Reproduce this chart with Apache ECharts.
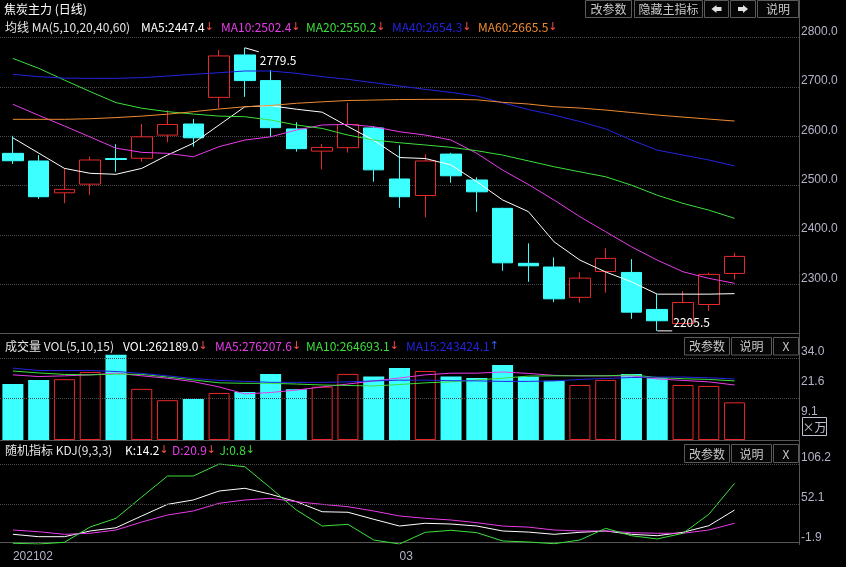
<!DOCTYPE html>
<html>
<head>
<meta charset="utf-8">
<title>焦炭主力 (日线)</title>
<script src="https://cdn.jsdelivr.net/npm/echarts@6/dist/echarts.min.js"></script>
<style>
html, body { margin: 0; padding: 0; background: #000; }
#main { width: 846px; height: 567px; }
</style>
</head>
<body>
<div id="main"></div>
<script>
// 交易日 (2021-02 ~ 2021-03)
const dates = ['2021-02-01','2021-02-02','2021-02-03','2021-02-04','2021-02-05','2021-02-08','2021-02-09','2021-02-10',
	'2021-02-18','2021-02-19','2021-02-22','2021-02-23','2021-02-24','2021-02-25','2021-02-26',
	'2021-03-01','2021-03-02','2021-03-03','2021-03-04','2021-03-05','2021-03-08','2021-03-09','2021-03-10',
	'2021-03-11','2021-03-12','2021-03-15','2021-03-16','2021-03-17','2021-03-18'];
// 右侧留白两根
const padSlots = ['', ''];

const openP  = [2565.5,2550,2485.5,2503,2555,2555.5,2602.5,2625,2679,2765,2713,2615,2570,2577,2617,2513.5,2480,2564,2511.5,2454,2342.5,2335,2273.5,2326,2324,2249,2220.5,2259,2322];
const closeP = [2550.5,2477.5,2492.5,2552,2553,2599,2624,2597,2763,2713,2617.5,2575,2577.5,2624,2532,2477.5,2550,2520,2487.5,2343.5,2337.5,2270.5,2312.5,2352.5,2243.5,2226,2263,2320,2356.5];
const lowP   = [2544,2473,2464.5,2481,2528,2548.5,2588,2579,2657,2680,2599,2569,2533,2567,2508,2455,2435.5,2506,2447,2327.5,2305,2264,2262.5,2283,2230,2205.5,2219,2246,2310];
const highP  = [2601,2562,2535.5,2558.5,2584,2625,2653,2635,2775,2779.5,2734.5,2628.5,2584,2668,2619.5,2582,2563.5,2566.5,2517,2455,2383,2354.5,2324,2373,2351,2280,2286,2323.5,2364];

const ma5  = [2597,2566,2535,2525,2523,2535,2562,2586,2623,2660,2662,2655,2649,2620,2592,2557,2555,2542,2508,2471,2447.4,2386,2349,2325,2305,2280,2280,2280,2281];
const ma10 = [2665,2642.6,2621,2598.6,2576,2567.5,2565.5,2558.6,2579,2592.5,2599,2612.8,2623,2624.3,2619.5,2609.3,2602.6,2592.5,2565.5,2531.6,2502.4,2470.8,2437,2406.5,2376,2349,2325.4,2312,2302];
const ma20 = [2758,2738,2714,2690.7,2668.4,2657,2650,2645.2,2641,2639.8,2633,2623,2616,2602.6,2592.5,2587,2582.4,2577.7,2570.8,2562,2550.2,2538.3,2528,2518,2501,2480.6,2464,2450.4,2433.7];
const ma40 = [2725.8,2721,2718,2717.6,2717.6,2719,2722.3,2725.8,2729,2732.5,2732.5,2727.8,2721,2715.6,2708.7,2702,2695.3,2689,2681.7,2668,2654.3,2643,2630,2615,2592.5,2572,2562,2552,2540];
const ma60 = [2634.5,2634.5,2634.5,2635.7,2638,2641,2645,2650,2655.4,2660,2662.5,2667,2670,2672.6,2673.6,2674.6,2675,2675,2674,2669,2665.5,2660,2657.4,2653.3,2648.3,2643.2,2639,2635,2631];

// 成交量 (万手)
const vol      = [23.2,24.9,25.2,28.2,35.3,21.2,16.5,17,19.5,19.9,27.4,21,22.1,27.4,26.3,29.9,28.6,26.3,25.7,31.1,26.2,24.6,22.8,24.9,27.4,25.6,22.8,22.4,15.6];
const volMa5   = [27.0,26.3,26.6,27.0,27.7,26.6,25.6,24.2,22.0,19.1,19.7,20.7,22.0,23.2,24.5,25.7,27.0,27.7,27.7,28.2,27.6,26.8,26.6,26.6,26.6,25.3,24.7,24.1,22.8];
const volMa10  = [28.6,27.8,27.2,27.0,27.3,27.2,26.1,24.9,23.7,23.5,23.5,23.2,22.8,22.6,22.4,23.0,23.7,24.1,24.9,25.6,26.5,26.6,26.6,26.6,27.0,25.9,25.4,25.1,24.5];
const volMa15  = [29.8,28.8,28.8,28.8,28.4,27.6,26.6,25.5,24.7,24.3,23.9,23.9,23.9,24.1,24.5,24.8,24.8,24.6,24.5,24.3,24.3,24.5,25.1,25.5,25.9,26.1,26.1,25.8,25.3];

// KDJ(9,3,3)
const kdjK = [11.2,8.0,8.0,15.7,20.1,36,51.7,57.6,69.7,73.4,65.3,55.3,41.7,41,31.5,22.4,26.1,25.1,22.4,15.7,14.2,11.2,13.9,15.7,11.2,9.3,13.9,22.8,44];
const kdjD = [17,14.7,11.2,12.6,17,27.8,37.3,42.7,53.1,57.6,59.9,55.3,51.7,48.5,42.7,36,32.8,30.5,26.9,22.4,20.9,17,15.7,15.7,13.4,12.6,12.6,17,26.1];
const kdjJ = [-0.9,-1.9,0.4,21.1,32.8,61.6,90,90,106.2,102.5,73.8,44,22.4,24.7,3.5,-1.9,13.9,16.6,13.4,2.2,0.8,-1.5,3.5,19.3,9.3,4.9,12.6,38.2,80.1];

// 刻度
const priceTicks = [2300, 2400, 2500, 2600, 2700, 2800];
const volTicks = [9.1, 21.6, 34.0];
const volGrid = [17.2, 34.0];
const kdjTicks = [-1.9, 52.1, 106.2];
const xTicks = [[0, '202102'], [15, '03']];
// 最高/最低标注
const extremes = [[9, 2779.5, 1], [25, 2205.5, -1]];

window.onload = function() {
	const RED = '#e8282b', CYAN = '#3cffff';
	const C_WHITE = '#ffffff', C_MAG = '#e83ce8', C_GREEN = '#3ce03c', C_BLUE = '#2424e0', C_ORANGE = '#f08a30';
	const FONT = '12px "Noto Sans CJK SC"';
	const AXIS_TXT = '#b4b4c8';
	const cats = dates.concat(padSlots);

	let chart = echarts.init(document.getElementById('main'));

	function lineSeries(name, data, color, xi, extra) {
		return Object.assign({
			name: name, type: 'line', data: data,
			xAxisIndex: xi, yAxisIndex: xi,
			symbol: 'none', smooth: false, silent: true,
			lineStyle: { color: color, width: 1 }
		}, extra || {});
	}
	function gridLines(values) {
		return {
			silent: true, symbol: ['none', 'none'], label: { show: false },
			lineStyle: { type: 'dotted', color: '#4a4a4a', width: 1 },
			data: values.map(function(v) { return { yAxis: v }; })
		};
	}
	function xAxisOf(i) {
		return {
			type: 'category', gridIndex: i, data: cats, boundaryGap: true,
			axisLine: { show: true, lineStyle: { color: '#555', width: 1 } },
			axisTick: { show: false },
			splitLine: { show: false },
			axisLabel: i === 2 ? {
				interval: 0, align: 'left', margin: 7, color: AXIS_TXT, fontSize: 12,
				fontFamily: 'Liberation Sans',
				formatter: function(v, idx) {
					for (let t of xTicks) { if (t[0] === idx) return t[1]; }
					return '';
				}
			} : { show: false }
		};
	}
	function yAxisOf(i, min, max, ticks, extra) {
		return Object.assign({
			type: 'value', gridIndex: i, position: 'right', min: min, max: max, scale: true,
			axisLine: { show: false }, axisTick: { show: false },
			splitLine: { show: false },
			axisLabel: {
				customValues: ticks, margin: 2, align: 'left', verticalAlign: 'bottom',
				color: AXIS_TXT, fontSize: 12, fontFamily: 'Liberation Sans',
				formatter: function(v) { return v.toFixed(1); }
			}
		}, extra || {});
	}

	// 文字和按钮
	function txt(x, y, text, color) {
		return { type: 'text', x: x, y: y, silent: true,
			style: { text: text, fill: color, font: FONT, verticalAlign: 'middle' } };
	}
	// parts: [文字, 颜色, 箭头, 箭头颜色]
	function valTxt(x, y, parts) {
		let rich = {}, str = '';
		parts.forEach(function(p, i) {
			rich['v' + i] = { fill: p[1], font: FONT };
			rich['a' + i] = { fill: p[3], font: '11px "DejaVu Sans"' };
			str += (i ? ' ' : '') + '{v' + i + '|' + p[0] + '}{a' + i + '|' + p[2] + '}';
		});
		return { type: 'text', x: x, y: y, silent: true,
			style: { text: str, verticalAlign: 'middle', rich: rich } };
	}
	function btn(x, y, w, h, label) {
		return { type: 'group', x: x, y: y, silent: true, children: [
			{ type: 'rect', shape: { x: 0, y: 0, width: w, height: h },
				style: { fill: '#050505', stroke: '#5a5a5a', lineWidth: 1 } },
			{ type: 'text', x: w / 2, y: h / 2 + 0.5,
				style: { text: label, fill: '#c8c8c8', font: FONT, align: 'center', verticalAlign: 'middle' } }
		] };
	}
	// dir: -1 左, 1 右
	function arrowBtn(x, y, w, h, dir) {
		let cx = w / 2, cy = h / 2, s = dir;
		let pts = [[cx + 5 * s, cy], [cx, cy - 4], [cx, cy - 2], [cx - 5 * s, cy - 2], [cx - 5 * s, cy + 2], [cx, cy + 2], [cx, cy + 4]];
		return { type: 'group', x: x, y: y, silent: true, children: [
			{ type: 'rect', shape: { x: 0, y: 0, width: w, height: h },
				style: { fill: '#050505', stroke: '#5a5a5a', lineWidth: 1 } },
			{ type: 'polygon', shape: { points: pts }, style: { fill: '#e0e0e0' } }
		] };
	}
	const DOWN = '#ff5050', UP = '#3a5aff';

	let option = {
		backgroundColor: '#000',
		animation: false,
		grid: [
			{ left: 0, right: 47, top: 37.7, height: 295.9 },
			{ left: 0, right: 47, top: 337, height: 103 },
			{ left: 0, right: 47, top: 443, height: 101 }
		],
		xAxis: [xAxisOf(0), xAxisOf(1), xAxisOf(2)],
		yAxis: [
			yAxisOf(0, 2200, 2800, priceTicks, {
				interval: 100,
				splitLine: { show: true, lineStyle: { type: 'dotted', color: '#4a4a4a', width: 1 } }
			}),
			yAxisOf(1, 0, 42.7, volTicks),
			yAxisOf(2, -1.9, 134.6, kdjTicks)
		],
		series: [
			{
				name: 'K线', type: 'candlestick', xAxisIndex: 0, yAxisIndex: 0, silent: true,
				barWidth: 21,
				data: openP.map(function(o, i) { return [o, closeP[i], lowP[i], highP[i]]; }),
				itemStyle: { color: '#000', color0: CYAN, borderColor: RED, borderColor0: CYAN, borderWidth: 1 }
			},
			lineSeries('MA5', ma5, C_WHITE, 0),
			lineSeries('MA10', ma10, C_MAG, 0),
			lineSeries('MA20', ma20, C_GREEN, 0),
			lineSeries('MA40', ma40, C_BLUE, 0),
			lineSeries('MA60', ma60, C_ORANGE, 0),
			{
				name: '极值', type: 'custom', xAxisIndex: 0, yAxisIndex: 0, silent: true, z: 10,
				data: extremes,
				renderItem: function(params, api) {
					let p = api.coord([api.value(0), api.value(1)]);
					let hi = api.value(2) > 0;
					let label = api.value(1).toFixed(1);
					let end = hi ? [p[0] + 14, p[1] + 4] : [p[0] + 15, p[1]];
					return { type: 'group', children: [
						{ type: 'line', shape: { x1: p[0], y1: p[1], x2: end[0], y2: end[1] },
							style: { stroke: '#ffffff', lineWidth: 1 } },
						{ type: 'text', x: end[0] + 1, y: hi ? p[1] + 13 : p[1] - 8,
							style: { text: label, fill: '#ffffff', font: FONT, verticalAlign: 'middle' } }
					] };
				}
			},
			{
				name: 'VOL', type: 'bar', xAxisIndex: 1, yAxisIndex: 1, silent: true,
				barWidth: 21,
				data: vol.map(function(v, i) {
					let up = closeP[i] > openP[i];
					return { value: v, itemStyle: up
						? { color: '#000', borderColor: RED, borderWidth: 1 }
						: { color: CYAN, borderColor: CYAN, borderWidth: 0 } };
				}),
				markLine: gridLines(volGrid)
			},
			lineSeries('VMA5', volMa5, C_MAG, 1),
			lineSeries('VMA10', volMa10, C_GREEN, 1),
			lineSeries('VMA15', volMa15, C_BLUE, 1),
			lineSeries('K', kdjK, C_WHITE, 2, { markLine: gridLines([52.1, 106.2]) }),
			lineSeries('D', kdjD, C_MAG, 2),
			lineSeries('J', kdjJ, C_GREEN, 2)
		],
		graphic: [
			{ type: 'line', silent: true, shape: { x1: 799.5, y1: 0, x2: 799.5, y2: 545 },
				style: { stroke: '#555', lineWidth: 1 } },
			// 标题行
			txt(4, 9, '焦炭主力 (日线)', '#ffffff'),
			btn(585.5, 0.5, 46, 17, '改参数'),
			btn(634.5, 0.5, 68, 17, '隐藏主指标'),
			arrowBtn(704.5, 0.5, 24, 17, -1),
			arrowBtn(730.5, 0.5, 25, 17, 1),
			btn(757.5, 0.5, 41, 17, '说明'),
			// 均线
			txt(5, 27, '均线 MA(5,10,20,40,60)', '#e6e6e6'),
			valTxt(141, 27, [['MA5:2447.4', '#ffffff', '↓', DOWN]]),
			valTxt(221, 27, [['MA10:2502.4', C_MAG, '↓', DOWN]]),
			valTxt(306, 27, [['MA20:2550.2', C_GREEN, '↓', DOWN]]),
			valTxt(392, 27, [['MA40:2654.3', C_BLUE, '↓', DOWN]]),
			valTxt(478, 27, [['MA60:2665.5', C_ORANGE, '↓', DOWN]]),
			// 成交量
			txt(5, 346, '成交量 VOL(5,10,15)', '#e6e6e6'),
			valTxt(123, 346, [['VOL:262189.0', '#ffffff', '↓', DOWN]]),
			valTxt(215, 346, [['MA5:276207.6', C_MAG, '↓', DOWN]]),
			valTxt(306, 346, [['MA10:264693.1', C_GREEN, '↓', DOWN]]),
			valTxt(406, 346, [['MA15:243424.1', C_BLUE, '↑', UP]]),
			btn(684.5, 337.5, 45, 17.5, '改参数'),
			btn(731.5, 337.5, 40, 17.5, '说明'),
			btn(773.5, 337.5, 25, 17.5, 'X'),
			{ type: 'group', x: 802.5, y: 417.5, silent: true, children: [
				{ type: 'rect', shape: { x: 0, y: 0, width: 24, height: 18 },
					style: { fill: '#000', stroke: '#c0c0d0', lineWidth: 1 } },
				{ type: 'text', x: 12, y: 9.5,
					style: { text: '×万', fill: '#c0c0d0', font: FONT, align: 'center', verticalAlign: 'middle' } }
			] },
			// KDJ
			txt(5, 450, '随机指标 KDJ(9,3,3)', '#e6e6e6'),
			valTxt(125, 450, [
				['K:14.2', '#ffffff', '↓', DOWN],
				['D:20.9', C_MAG, '↓', DOWN],
				['J:0.8', C_GREEN, '↓', C_GREEN]
			]),
			btn(684.5, 444.5, 45, 18, '改参数'),
			btn(731.5, 444.5, 40, 18, '说明'),
			btn(773.5, 444.5, 25, 18, 'X')
		]
	};
	chart.setOption(option);
};
</script>
</body>
</html>
